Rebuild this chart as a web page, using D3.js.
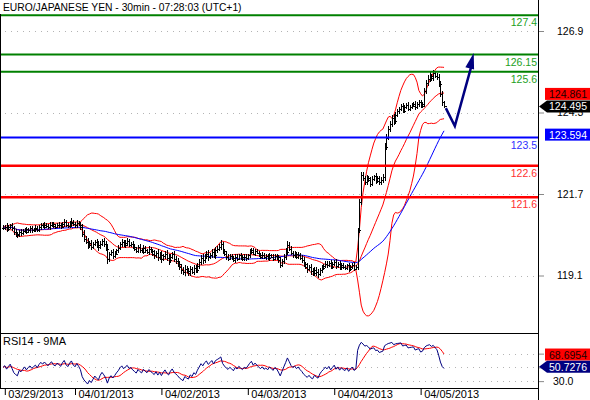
<!DOCTYPE html>
<html>
<head>
<meta charset="utf-8">
<script src="https://cdn.jsdelivr.net/npm/d3@7"></script>
<style>
  body { margin: 0; background: #fff; }
  svg { display: block; font-family: Arial, "Liberation Sans", sans-serif; }
</style>
</head>
<body>
<svg width="590" height="400"></svg>
<script>
// chart text
var title = "EURO/JAPANESE YEN - 30min - 07:28:03 (UTC+1)";
var rsiTitle = "RSI14 - 9MA";

// x axis: bar index where each day starts
var dateLabels = ["03/29/2013", "04/01/2013", "04/02/2013", "04/03/2013", "04/04/2013", "04/05/2013"];
var dateBars = [1, 40, 88, 136, 184, 232];

// 30 min closes
var closes = [
  120.62,120.66,120.58,120.64,120.70,120.60,
  120.48,120.42,120.38,120.50,120.46,
  120.52,120.58,120.50,120.56,120.60,120.54,120.58,120.62,120.56,
  120.64,120.70,120.66,120.72,120.68,120.64,120.70,120.74,120.68,120.66,120.72,120.70,
  120.66,120.74,120.80,120.72,120.68,120.76,120.82,120.74,120.70,120.78,120.72,120.64,
  120.42,120.28,
  120.18,120.06,120.14,120.02,120.10,120.18,120.08,120.00,120.12,120.20,120.10,119.96,
  119.62,
  119.78,119.86,119.72,119.80,119.90,119.98,
  120.10,120.18,120.06,120.14,120.20,120.08,120.12,120.02,
  119.96,119.88,120.00,119.92,119.86,119.98,119.90,119.84,119.94,119.88,119.80,
  119.74,119.82,119.68,119.76,119.62,119.72,119.80,119.66,119.58,119.70,119.78,119.64,119.56,119.48,
  119.36,119.28,119.20,119.32,119.24,119.18,119.30,119.22,119.34,119.26,119.40,
  119.52,119.66,119.58,119.72,119.80,119.68,119.76,119.86,119.74,119.90,119.96,120.02,
  120.10,
  119.88,119.78,119.70,119.64,119.72,119.66,119.58,119.70,119.64,119.74,119.68,119.62,119.70,119.66,119.74,
  119.84,119.92,119.80,119.88,119.82,119.76,
  119.70,119.76,119.68,119.72,119.66,119.74,119.70,119.64,119.72,119.68,119.58,
  119.44,119.56,119.70,119.86,
  120.08,119.96,
  119.82,119.74,119.80,119.70,119.76,119.66,119.58,
  119.46,119.38,119.30,119.36,119.24,119.18,119.28,119.20,119.14,119.26,119.34,119.40,
  119.48,119.42,119.50,119.38,119.46,119.54,119.40,119.48,119.36,119.44,119.38,
  119.34,119.42,119.30,119.38,119.44,119.32,119.36,
  120.55,121.45,122.30,
  122.20,122.08,122.22,122.14,122.02,122.18,122.26,122.12,122.20,122.08,122.16,122.24,
  123.20,
  123.50,123.78,
  123.92,124.14,124.02,124.22,124.34,
  124.40,124.50,124.36,124.46,124.54,124.42,124.48,
  124.52,124.58,124.46,124.56,124.62,124.50,124.58,
  124.98,
  125.24,125.38,
  125.46,125.40,125.56,125.48,125.42,
  125.20,
  124.88,124.62,124.50
];

// how far each bar reaches past its open/close
var wicks = [
  .08,.06,.10,.07,.05,.09,
  .08,.10,.07,.06,.09,
  .07,.05,.08,.06,.09,.07,.05,.08,.06,
  .07,.09,.06,.08,.05,.07,.10,.06,.08,.07,.05,.09,
  .08,.06,.09,.07,.05,.08,.10,.06,.07,.09,.05,.08,
  .10,.12,
  .09,.11,.07,.10,.08,.06,.09,.12,.07,.08,.10,.09,
  .14,
  .08,.06,.09,.07,.05,.08,
  .07,.09,.06,.08,.10,.07,.06,.09,
  .08,.06,.07,.09,.05,.08,.07,.06,.09,.07,.08,
  .10,.07,.12,.08,.11,.06,.09,.10,.13,.07,.08,.11,.09,.10,
  .09,.12,.08,.10,.07,.11,.09,.06,.10,.08,.09,
  .10,.08,.12,.07,.09,.11,.06,.10,.08,.12,.09,.07,
  .12,
  .08,.06,.09,.07,.05,.08,.06,.09,.07,.05,.08,.06,.07,.09,.06,
  .09,.07,.06,.08,.05,.07,
  .06,.08,.05,.07,.06,.09,.05,.07,.06,.08,.07,
  .10,.08,.09,.11,
  .12,.09,
  .08,.07,.09,.06,.08,.07,.09,
  .10,.08,.12,.07,.11,.09,.08,.10,.12,.07,.09,.08,
  .07,.09,.06,.08,.07,.05,.09,.06,.08,.07,.06,
  .07,.06,.08,.05,.07,.09,.06,
  .08,.10,.09,
  .10,.08,.09,.07,.11,.08,.06,.10,.07,.09,.08,.10,
  .12,
  .10,.09,
  .10,.08,.11,.09,.07,
  .08,.06,.09,.07,.05,.08,.06,
  .07,.05,.08,.06,.09,.07,.06,
  .10,
  .09,.11,
  .12,.08,.10,.07,.09,
  .10,
  .09,.11,.06
];

var priceTicks = [126.9, 124.3, 121.7, 119.1];
var levels = [127.4, 126.15, 125.6, 123.5, 122.6, 121.6];
var levelLabels = ["127.4", "126.15", "125.6", "123.5", "122.6", "121.6"];
var priceTags = [124.861, 124.495, 123.594];
var rsiTicks = [70, 50, 30];
var rsiTickLabels = [30];   // the other two sit under the value tags
var rsiTags = [68.6954, 50.7276];
// drawn projection: [bar index, price]
var forecast = [[246, 124.44], [251, 123.87], [261.5, 126.2]];

// styles
var levelColors = ["#008000", "#008000", "#008000", "#0000ff", "#ff0000", "#ff0000"];
var levelTextColors = ["#22a022", "#22a022", "#22a022", "#3030ff", "#ff3030", "#ff3030"];

var svg = d3.select('svg');
var left = 1, right = 538;

var x = d3.scaleLinear().domain([0, 297.2]).range([3, right]);
var y = d3.scaleLinear().domain([121.7, 126.9]).range([194, 31]);
var yr = d3.scaleLinear().domain([20, 100]).range([388, 333]);

// indicators
function bollinger(arr, n, k) {
  return arr.map(function (v, i) {
    var s = arr.slice(Math.max(0, i - n + 1), i + 1);
    var m = d3.mean(s);
    var sd = Math.sqrt(d3.mean(s, function (d) { return (d - m) * (d - m); }));
    return {mid: m, up: m + k * sd, lo: m - k * sd};
  });
}
function sma(arr, n) {
  return arr.map(function (v, i) {
    return d3.mean(arr.slice(Math.max(0, i - n + 1), i + 1));
  });
}
function rsiCalc(arr, n) {
  // start from a neutral state (rsi 50) before the first bar
  var ag = 0.03, al = 0.03, out = [50];
  for (var i = 1; i < arr.length; i++) {
    var ch = arr[i] - arr[i - 1];
    ag = (ag * (n - 1) + Math.max(ch, 0)) / n;
    al = (al * (n - 1) + Math.max(-ch, 0)) / n;
    out.push(al === 0 ? 100 : 100 - 100 / (1 + ag / al));
  }
  return out;
}
var bb = bollinger(closes, 20, 2);
var ma50 = sma(closes, 50);
var rsi = rsiCalc(closes, 14);
var rsiMa = sma(rsi, 9);

var defs = svg.append('defs');
defs.append('clipPath').attr('id', 'clipMain')
  .append('rect').attr('x', left).attr('y', 14).attr('width', right - left).attr('height', 319);
defs.append('clipPath').attr('id', 'clipRsi')
  .append('rect').attr('x', left).attr('y', 334).attr('width', right - left).attr('height', 54);

// grid
var grid = svg.append('g').attr('stroke', '#b4b4b4').attr('stroke-dasharray', '1,5');
grid.selectAll('line.p').data(priceTicks).enter().append('line')
  .attr('x1', 5).attr('x2', right).attr('y1', d => Math.round(y(d)) + 0.5).attr('y2', d => Math.round(y(d)) + 0.5);
grid.selectAll('line.r').data(rsiTicks).enter().append('line')
  .attr('x1', 5).attr('x2', right).attr('y1', d => Math.round(yr(d)) + 0.5).attr('y2', d => Math.round(yr(d)) + 0.5);

var main = svg.append('g').attr('clip-path', 'url(#clipMain)');

// bands + moving average
var line = d3.line().x((d, i) => x(i));
main.append('path').attr('fill', 'none').attr('stroke', '#ff0000').attr('stroke-width', 1)
  .attr('d', line.y(d => y(d.up))(bb));
main.append('path').attr('fill', 'none').attr('stroke', '#ff0000').attr('stroke-width', 1)
  .attr('d', line.y(d => y(d.mid))(bb));
main.append('path').attr('fill', 'none').attr('stroke', '#ff0000').attr('stroke-width', 1)
  .attr('d', line.y(d => y(d.lo))(bb));
main.append('path').attr('fill', 'none').attr('stroke', '#0000ff').attr('stroke-width', 1)
  .attr('d', d3.line().x((d, i) => x(i)).y(d => y(d))(ma50));

// ohlc bars
var bars = closes.map(function (c, i) {
  var o = i > 0 ? closes[i - 1] : c;
  return {i: i, o: o, c: c, h: Math.max(o, c) + wicks[i], l: Math.min(o, c) - wicks[i]};
});
var barG = main.append('g').attr('stroke', '#000').attr('stroke-width', 1).attr('shape-rendering', 'crispEdges');
barG.selectAll('path').data(bars).enter().append('path')
  .attr('d', function (d) {
    var bx = Math.round(x(d.i)) + 0.5;
    return 'M' + bx + ',' + y(d.h) + 'V' + y(d.l) +
      'M' + (bx - 2) + ',' + Math.round(y(d.o)) + 'H' + bx +
      'M' + bx + ',' + Math.round(y(d.c)) + 'H' + (bx + 2);
  });

// level lines
svg.append('g').selectAll('line').data(levels).enter().append('line')
  .attr('x1', left).attr('x2', right)
  .attr('y1', d => y(d)).attr('y2', d => y(d))
  .attr('stroke', (d, i) => levelColors[i])
  .attr('stroke-width', (d, i) => i >= 4 ? 2.5 : 2);
svg.append('g').selectAll('text').data(levels).enter().append('text')
  .attr('x', right - 1).attr('y', d => y(d) + 11)
  .attr('text-anchor', 'end').attr('font-size', '10.5px')
  .attr('fill', (d, i) => levelTextColors[i])
  .text((d, i) => levelLabels[i]);

// projection arrow
var fp = forecast.map(d => [x(d[0]), y(d[1])]);
svg.append('path').attr('fill', 'none').attr('stroke', '#000080').attr('stroke-width', 2.5)
  .attr('stroke-linejoin', 'miter')
  .attr('d', d3.line()(fp.slice(0, 2).concat([[fp[2][0] - 2, fp[2][1] + 12]])));
(function () {
  var a = fp[1], b = fp[2];
  var dx = b[0] - a[0], dy = b[1] - a[1], len = Math.sqrt(dx * dx + dy * dy);
  var ux = dx / len, uy = dy / len, hl = 16, hw = 4.5;
  var bx = b[0] - ux * hl, by = b[1] - uy * hl;
  svg.append('path').attr('fill', '#000080')
    .attr('d', 'M' + b[0] + ',' + b[1] + 'L' + (bx - uy * hw) + ',' + (by + ux * hw) +
      'L' + (bx + uy * hw) + ',' + (by - ux * hw) + 'Z');
})();

// rsi panel
var rg = svg.append('g').attr('clip-path', 'url(#clipRsi)');
rg.append('path').attr('fill', 'none').attr('stroke', '#ff0000').attr('stroke-width', 1)
  .attr('d', d3.line().x((d, i) => x(i)).y(d => yr(d))(rsiMa));
rg.append('path').attr('fill', 'none').attr('stroke', '#000080').attr('stroke-width', 1)
  .attr('d', d3.line().x((d, i) => x(i)).y(d => yr(d))(rsi));

// frame
var frame = svg.append('g').attr('stroke', '#000').attr('stroke-width', 1).attr('shape-rendering', 'crispEdges');
frame.append('line').attr('x1', right + 0.5).attr('x2', right + 0.5).attr('y1', 0).attr('y2', 400);
frame.append('line').attr('x1', 0.5).attr('x2', 0.5).attr('y1', 14).attr('y2', 388);
frame.append('line').attr('x1', 0).attr('x2', right).attr('y1', 333.5).attr('y2', 333.5);
frame.append('line').attr('x1', 0).attr('x2', right).attr('y1', 388.5).attr('y2', 388.5);

// axes
var yAxis = svg.append('g').attr('transform', 'translate(' + (right + 1) + ',0)')
  .call(d3.axisRight(y).tickValues(priceTicks).tickSize(5).tickPadding(13).tickFormat(d3.format('.1f')));
var rAxis = svg.append('g').attr('transform', 'translate(' + (right + 1) + ',0)')
  .call(d3.axisRight(yr).tickValues(rsiTicks).tickSize(5).tickPadding(9)
    .tickFormat(d => rsiTickLabels.indexOf(d) >= 0 ? d3.format('.1f')(d) : ''));
var xAxis = svg.append('g').attr('transform', 'translate(0,388)')
  .call(d3.axisBottom(x).tickValues(dateBars).tickSize(7).tickFormat((d, i) => dateLabels[i]));
[yAxis, rAxis, xAxis].forEach(function (g) {
  g.select('.domain').remove();
  g.selectAll('text').attr('font-family', 'Arial, "Liberation Sans", sans-serif').attr('fill', '#000');
});
yAxis.selectAll('text').attr('font-size', '10.5px');
rAxis.selectAll('text').attr('font-size', '10.5px');
yAxis.selectAll('line').attr('stroke', '#888');
rAxis.selectAll('line').attr('stroke', '#888');
xAxis.selectAll('line').attr('stroke', '#000');
xAxis.selectAll('text').attr('font-size', '11px').attr('text-anchor', 'start')
  .attr('x', 3).attr('y', 10).attr('dy', 0);

// value tags on the right
function tag(yy, label, fill, color, arrow) {
  var g = svg.append('g');
  var top = yy - 6, bot = yy + 6;
  if (arrow) {
    g.append('path').attr('fill', fill)
      .attr('d', 'M' + (right + 1) + ',' + yy + 'L' + (right + 9) + ',' + top + 'H590V' + bot + 'H' + (right + 9) + 'Z');
  } else {
    g.append('rect').attr('x', 545).attr('y', top).attr('width', 45).attr('height', 12).attr('fill', fill);
  }
  g.append('text').attr('x', 587).attr('y', yy + 4).attr('text-anchor', 'end')
    .attr('font-size', '10.5px').attr('fill', color).text(label);
}
tag(y(priceTags[0]) - 1, priceTags[0].toFixed(3), '#ff0000', '#1a0000', false);
tag(y(priceTags[1]), priceTags[1].toFixed(3), '#000000', '#ffffff', true);
tag(y(priceTags[2]), priceTags[2].toFixed(3), '#0000ff', '#ffffff', false);
tag(yr(rsiTags[0]), rsiTags[0].toFixed(4), '#ff0000', '#1a0000', false);
tag(yr(rsiTags[1]), rsiTags[1].toFixed(4), '#000080', '#ffffff', true);

// titles
svg.append('text').attr('x', 3).attr('y', 10.5).attr('font-size', '10.3px').attr('fill', '#000').text(title);
svg.append('text').attr('x', 3).attr('y', 345).attr('font-size', '11px').attr('fill', '#000').text(rsiTitle);
</script>
</body>
</html>
